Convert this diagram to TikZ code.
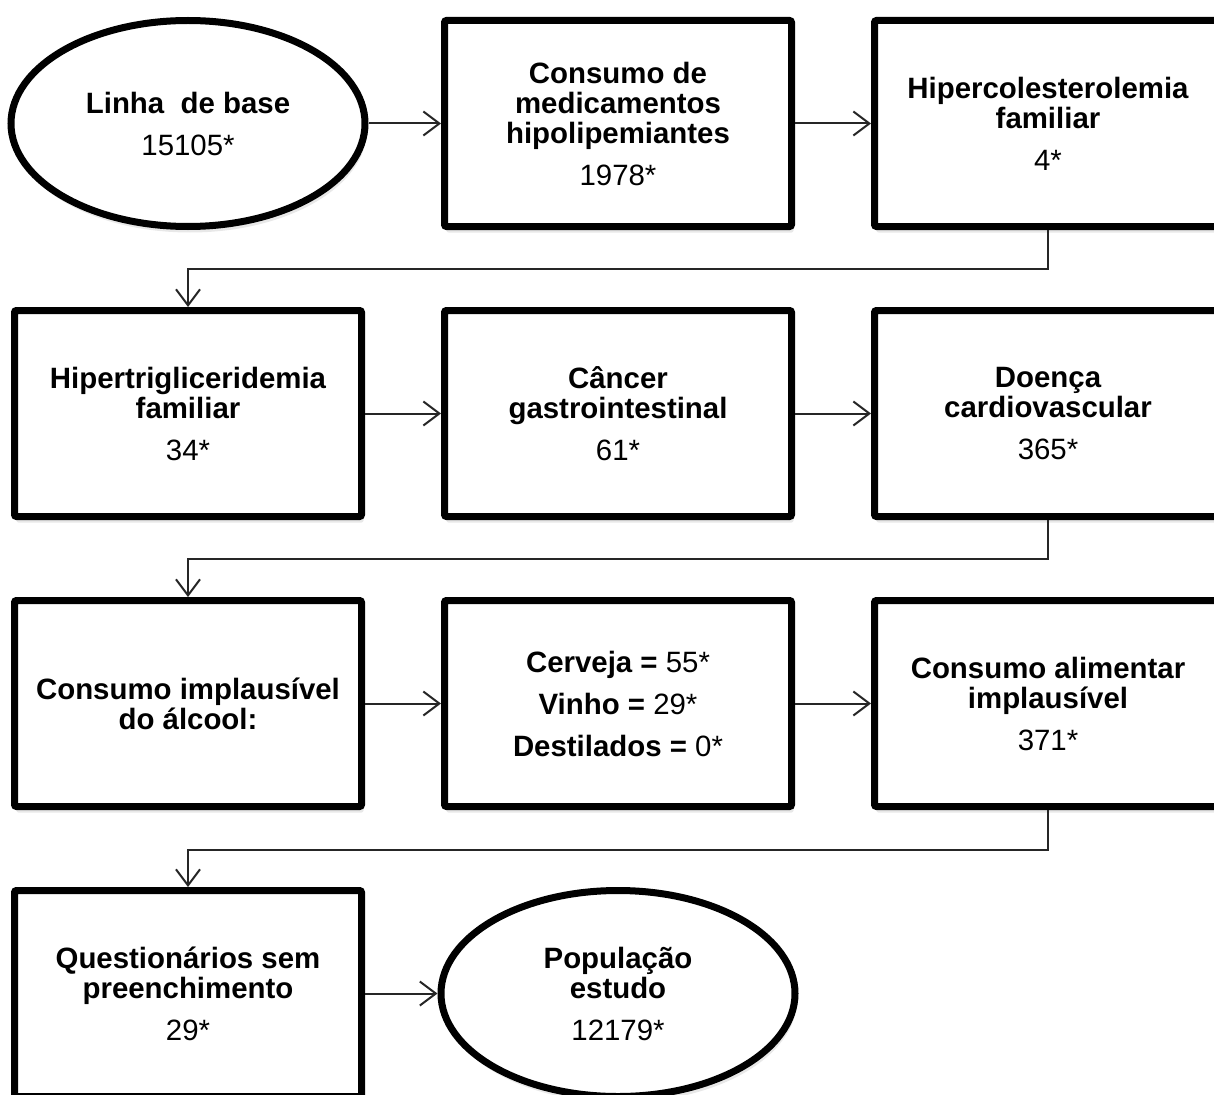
\documentclass[tikz,border=0pt]{standalone}
\usepackage{fontspec}
\setmainfont{Liberation Sans}
\usepackage{tikz}
\usetikzlibrary{
        arrows.meta,
        positioning,
        shadows,
        shapes.geometric
    }
\tikzset{>={Straight Barb[length=16pt,width=24pt]},auto}
\tikzset{etapa/.style={draw=black,line width=7pt,fill=white,align=center,
        font=\fontsize{29.4}{30}\selectfont\bfseries,
        drop shadow={shadow xshift=2pt,shadow yshift=-6pt,opacity=0.18}}}

\begin{document}
\begin{tikzpicture}[x=1pt,y=1pt,node distance=290pt and 430pt,on grid]
                \tikzset{caixa/.style={etapa,rectangle,rounded corners=2pt,minimum width=347pt,minimum height=206pt}}
                \tikzset{oval/.style={etapa,ellipse,minimum width=354pt,minimum height=206pt}}
                \tikzset{liga/.style={->,line width=2pt,draw=black!85}}
                \useasboundingbox (0,0) rectangle (1214,-1094);
                \node[oval] (base) at (188,-123.5) {Linha~ de base\\[12pt]{\mdseries 15105*}};
                \node[caixa] (meds) [right=of base] {Consumo de\\medicamentos\\hipolipemiantes\\[12pt]{\mdseries 1978*}};
                \node[caixa] (hipercol) [right=of meds] {Hipercolesterolemia\\familiar\\[12pt]{\mdseries 4*}};
                \node[caixa] (hipertrig) [below=of base] {Hipertrigliceridemia\\familiar\\[12pt]{\mdseries 34*}};
                \node[caixa] (cancer) [right=of hipertrig] {C\^ancer\\gastrointestinal\\[12pt]{\mdseries 61*}};
                \node[caixa] (cardio) [right=of cancer] {Doen\c{c}a\\cardiovascular\\[12pt]{\mdseries 365*}};
                \node[caixa] (alcool) [below=of hipertrig] {Consumo implaus\'ivel\\do \'alcool:};
                \node[caixa] (bebidas) [right=of alcool] {Cerveja = {\mdseries 55*}\\[12pt]Vinho = {\mdseries 29*}\\[12pt]Destilados = {\mdseries 0*}};
                \node[caixa] (alimentar) [right=of bebidas] {Consumo alimentar\\implaus\'ivel\\[12pt]{\mdseries 371*}};
                \node[caixa] (quest) [below=of alcool] {Question\'arios sem\\preenchimento\\[12pt]{\mdseries 29*}};
                \node[oval] (pop) [right=of quest] {Popula\c{c}\~ao\\estudo\\[12pt]{\mdseries 12179*}};
                \path[liga]
                    (base)      edge (meds)
                    (meds)      edge (hipercol)
                    (hipertrig) edge (cancer)
                    (cancer)    edge (cardio)
                    (alcool)    edge (bebidas)
                    (bebidas)   edge (alimentar)
                    (quest)     edge (pop)
                ;
                \draw[liga] (hipercol.south) -- ++(0,-38.5) -| (hipertrig.north);
                \draw[liga] (cardio.south) -- ++(0,-38.5) -| (alcool.north);
                \draw[liga] (alimentar.south) -- ++(0,-39.5) -| (quest.north);
            \end{tikzpicture}
\end{document}
